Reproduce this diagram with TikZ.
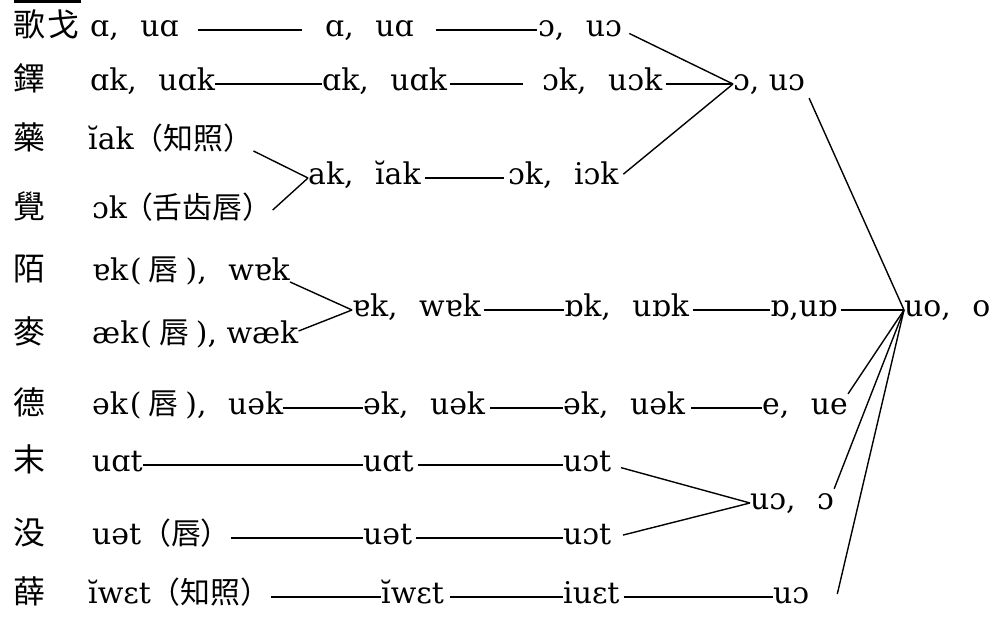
\documentclass[tikz,border=0pt]{standalone}
\usepackage{fontspec}
\setmainfont{DejaVu Serif}
\newfontfamily\cjkfont{Noto Sans CJK SC}
\newcommand\zhtext[1]{{\cjkfont #1}}
% CJK gloss between narrow brackets
\newcommand\zhgloss[1]{(\kern7pt{\cjkfont #1}\kern7pt)}
% comma followed by the wide space used between paired finals
\newcommand\wcomma{,\hspace{0.72em}}
\begin{document}
\begin{tikzpicture}[x=1bp,y=-1bp,
  lbl/.style={inner sep=0pt, anchor=west, text height=21pt, text depth=7pt,
              font=\fontsize{30}{34}\selectfont},
  hanzi/.style={lbl, font=\fontsize{32}{36}\selectfont\cjkfont},
  link/.style={line width=1.4pt}]
\fill[white] (0,0) rectangle (998,618);
\useasboundingbox (0,0) rectangle (998,618);
% remnant of the rule above the table
\fill[black] (14,0) rectangle (81,3);

% rhyme groups
\node[hanzi] (c1)  at (13,30)  {歌\kern2pt 戈};
\node[hanzi] (c2)  at (13,84)  {鐸};
\node[hanzi] (c3)  at (13,143) {藥};
\node[hanzi] (c4)  at (13,212) {覺};
\node[hanzi] (c5)  at (13,274) {陌};
\node[hanzi] (c6)  at (13,337) {麥};
\node[hanzi] (c7)  at (13,408) {德};
\node[hanzi] (c8)  at (13,465) {末};
\node[hanzi] (c9)  at (13,538) {没};
\node[hanzi] (c10) at (13,597) {薛};

% row 1
\node[lbl] (a1) at (90,30)  {ɑ\wcomma{}uɑ};
\node[lbl] (b1) at (325,30) {ɑ\wcomma{}uɑ};
\node[lbl] (d1) at (538,30) {ɔ\wcomma{}uɔ};
% row 2
\node[lbl] (a2) at (90,84)  {ɑk\wcomma{}uɑk};
\node[lbl] (b2) at (322,84) {ɑk\wcomma{}uɑk};
\node[lbl] (d2) at (542,84) {ɔk\wcomma{}uɔk};
\node[lbl] (o1) at (733,84) {ɔ, uɔ};
% rows 3-4
\node[lbl] (a3) at (88,143) {ĭak\zhtext{（知照）}};
\node[lbl] (a4) at (92,212) {ɔk\kern-4pt\zhtext{（舌齿唇）}};
\node[lbl] (m3) at (308,178) {ak\wcomma{}ĭak};
\node[lbl] (n3) at (508,178) {ɔk\wcomma{}iɔk};
% rows 5-6
\node[lbl] (a5) at (92,274) {ɐk\kern2pt\zhgloss{唇}\wcomma{}wɐk};
\node[lbl] (a6) at (92,337) {æk\kern2pt\zhgloss{唇}, wæk};
\node[lbl] (m5) at (352,310) {ɐk\wcomma{}wɐk};
\node[lbl] (n5) at (564,310) {ɒk\wcomma{}uɒk};
\node[lbl] (p5) at (770,310) {ɒ,uɒ};
\node[lbl] (q5) at (904,310) {uo\wcomma{}o};
% row 7
\node[lbl] (a7) at (92,408)  {ək\kern2pt\zhgloss{唇}\wcomma{}uək};
\node[lbl] (b7) at (363,408) {ək\wcomma{}uək};
\node[lbl] (d7) at (563,408) {ək\wcomma{}uək};
\node[lbl] (e7) at (762,408) {e\wcomma{}ue};
% rows 8-9
\node[lbl] (a8) at (92,465)  {uɑt};
\node[lbl] (b8) at (363,465) {uɑt};
\node[lbl] (d8) at (563,465) {uɔt};
\node[lbl] (a9) at (92,538)  {uət\zhtext{（唇）}};
\node[lbl] (b9) at (363,538) {uət};
\node[lbl] (d9) at (563,538) {uɔt};
\node[lbl] (f8) at (750,503) {uɔ\wcomma{}ɔ};
% row 10
\node[lbl] (a10) at (88,597)  {ĭwɛt\zhtext{（知照）}};
\node[lbl] (b10) at (381,597) {ĭwɛt};
\node[lbl] (d10) at (563,597) {iuɛt};
\node[lbl] (e10) at (773,597) {uɔ};
\coordinate (g10) at ([xshift=28pt,yshift=3pt]e10.east);

% connectors
\draw[link, shorten <=19pt, shorten >=23pt] (a1) -- (b1);
\draw[link, shorten <=22pt, shorten >=1pt] (b1) -- (d1);
\draw[link, shorten <=8pt] (d1.east) -- (o1.west);
\draw[link] (a2) -- (b2);
\draw[link, shorten <=3pt, shorten >=19pt] (b2) -- (d2);
\draw[link, shorten <=4pt] (d2) -- (o1);
\draw[link, shorten <=6pt] (n3.east) -- (o1.west);

\draw[link] ([yshift=-8pt]a3.east) -- (m3.west);
\draw[link] ([yshift=2pt]a4.east) -- (m3.west);
\draw[link, shorten <=4pt, shorten >=4pt] (m3) -- (n3);

\draw[link] ([yshift=-8pt]a5.east) -- (m5.west);
\draw[link] ([yshift=6pt]a6.east) -- (m5.west);
\draw[link, shorten <=3pt] (m5) -- (n5);
\draw[link, shorten <=4pt] (n5) -- (p5);
\draw[link, shorten <=4pt] (p5) -- (q5);

\draw[link] (a7) -- (b7);
\draw[link, shorten <=5pt] (b7) -- (d7);
\draw[link, shorten <=6pt] (d7) -- (e7);

\draw[link] (a8) -- (b8);
\draw[link, shorten <=4pt] (b8) -- (d8);
\draw[link, shorten <=10pt] (d8.east) -- (f8.west);
\draw[link] (a9) -- (b9);
\draw[link, shorten <=4pt] (b9) -- (d9);
\draw[link, shorten <=12pt] (d9.east) -- (f8.west);

\draw[link] (a10) -- (b10);
\draw[link, shorten <=6pt] (b10) -- (d10);
\draw[link, shorten <=4pt] (d10) -- (e10);

% convergence on uo, o
\draw[link] ([xshift=4pt]o1.south east) -- (q5.west);
\draw[link] (e7.north east) -- (q5.west);
\draw[link] (f8.north east) -- (q5.west);
\draw[link] (g10) -- (q5.west);
\end{tikzpicture}
\end{document}
